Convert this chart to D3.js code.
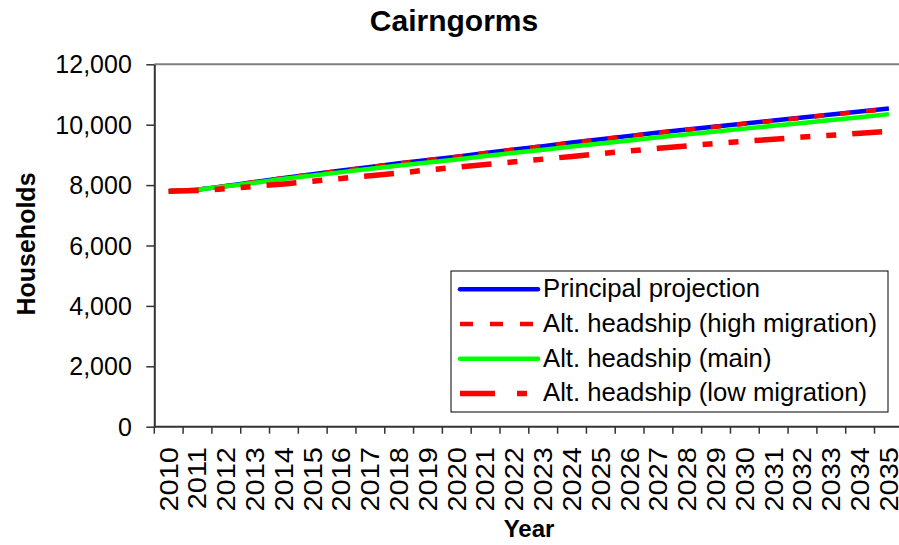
<!DOCTYPE html>
<html>
<head>
<meta charset="utf-8">
<script src="https://cdn.jsdelivr.net/npm/d3@7"></script>
<style>
  html, body { margin: 0; padding: 0; background: #fff; }
  svg { display: block; font-family: Arial, "Liberation Sans", sans-serif; }
</style>
</head>
<body>
<svg id="chart" width="899" height="545"></svg>
<script>
// ---- Data ----
const years = ["2010","2011","2012","2013","2014","2015","2016","2017","2018","2019","2020","2021","2022","2023","2024","2025","2026","2027","2028","2029","2030","2031","2032","2033","2034","2035"];
const principal = [7800,7850,7970,8100,8240,8360,8480,8600,8720,8830,8940,9060,9180,9290,9410,9520,9630,9740,9840,9940,10040,10140,10240,10340,10440,10540];
const highMigration = [7800,7850,7970,8100,8240,8360,8480,8600,8720,8830,8940,9060,9180,9290,9405,9515,9625,9730,9830,9930,10030,10130,10230,10330,10425,10525];
const altMain = [7800,7850,7960,8080,8210,8320,8430,8540,8650,8750,8850,8960,9070,9170,9280,9380,9480,9585,9680,9775,9870,9965,10060,10155,10250,10350];
const lowMigration = [7800,7820,7880,7960,8040,8130,8220,8310,8400,8500,8590,8680,8770,8860,8950,9040,9130,9220,9300,9380,9450,9520,9590,9650,9720,9780];
const yTicks = [0,2000,4000,6000,8000,10000,12000];
const seriesNames = ["Principal projection","Alt. headship (high migration)","Alt. headship (main)","Alt. headship (low migration)"];

const series = [
  {name: seriesNames[0], values: principal, color: "#0000FF", width: 4.5, dash: null, legendDash: null},
  {name: seriesNames[1], values: highMigration, color: "#FF0000", width: 4.5, dash: "10,16", legendDash: "13,17"},
  {name: seriesNames[2], values: altMain, color: "#00FF00", width: 4.5, dash: null, legendDash: null},
  {name: seriesNames[3], values: lowMigration, color: "#FF0000", width: 5.5, dash: "30,16,10,16,10,16", legendDash: "35,22,10,22"}
];

const svg = d3.select("#chart");
const plot = {left: 154.3, right: 903.3, top: 64.3, bottom: 426.7};

const x = d3.scaleBand().domain(years).range([plot.left, plot.right]).padding(0);
const y = d3.scaleLinear().domain([0, 12000]).range([plot.bottom, plot.top]);

// Title
svg.append("text").attr("x", 454).attr("y", 31).attr("text-anchor", "middle")
  .attr("font-size", 30).attr("font-weight", "bold").text("Cairngorms");

// Plot border (top and right)
svg.append("line").attr("x1", plot.left).attr("x2", plot.right).attr("y1", plot.top).attr("y2", plot.top)
  .attr("stroke", "#808080").attr("stroke-width", 2);
svg.append("line").attr("x1", plot.right).attr("x2", plot.right).attr("y1", plot.top).attr("y2", plot.bottom)
  .attr("stroke", "#808080").attr("stroke-width", 2);

// Y axis
const yAxis = d3.axisLeft(y).tickValues(yTicks).tickSize(8).tickSizeOuter(0)
  .tickFormat(d3.format(","));
const gy = svg.append("g").attr("transform", `translate(${plot.left},0)`).call(yAxis);
gy.select(".domain").attr("stroke", "#333").attr("stroke-width", 2);
gy.selectAll(".tick line").attr("stroke", "#333").attr("stroke-width", 1.5);
gy.selectAll(".tick text").attr("font-size", 25).attr("fill", "#000")
  .attr("x", -22.5).attr("dy", "0.34em").attr("font-family", "Arial, 'Liberation Sans', sans-serif");

// X axis (ticks between categories)
const gx = svg.append("g").attr("transform", `translate(0,${plot.bottom})`);
gx.append("line").attr("x1", plot.left).attr("x2", plot.right).attr("y1", 0).attr("y2", 0)
  .attr("stroke", "#333").attr("stroke-width", 2);
const boundaries = years.map(d => x(d)).concat([x(years[years.length-1]) + x.bandwidth()]);
gx.selectAll("line.tk").data(boundaries).enter().append("line").attr("class", "tk")
  .attr("x1", d => d).attr("x2", d => d).attr("y1", 0).attr("y2", 7)
  .attr("stroke", "#333").attr("stroke-width", 1.5);
const fsX = 25;
gx.selectAll("text").data(years).enter().append("text")
  .attr("transform", d => `translate(${x(d) + x.bandwidth()/2 + 0.355*fsX},${447 - plot.bottom}) rotate(-90) scale(1.16,1)`)
  .attr("text-anchor", "end").attr("font-size", fsX).attr("fill", "#000").text(d => d);

// Axis titles
svg.append("text").attr("x", 529).attr("y", 537).attr("text-anchor", "middle")
  .attr("font-size", 24).attr("font-weight", "bold").text("Year");
svg.append("text").attr("transform", "translate(35,244) rotate(-90)").attr("text-anchor", "middle")
  .attr("font-size", 25).attr("font-weight", "bold").text("Households");

// Lines
const line = d3.line().x((d, i) => x(years[i]) + x.bandwidth()/2).y(d => y(d));
series.forEach(s => {
  svg.append("path").datum(s.values).attr("d", line).attr("fill", "none")
    .attr("stroke", s.color).attr("stroke-width", s.width)
    .attr("stroke-dasharray", s.dash).attr("stroke-linejoin", "round");
});

// Legend
const lg = svg.append("g");
lg.append("rect").attr("x", 451).attr("y", 271).attr("width", 437).attr("height", 141)
  .attr("fill", "#fff").attr("stroke", "#000").attr("stroke-width", 1);
series.forEach((s, i) => {
  const cy = 289.3 + i * 34.7;
  lg.append("line").attr("x1", 460).attr("x2", 538).attr("y1", cy).attr("y2", cy)
    .attr("stroke", s.color).attr("stroke-width", s.width)
    .attr("stroke-dasharray", s.legendDash)
    .attr("stroke-linecap", s.legendDash ? "butt" : "round");
  lg.append("text").attr("x", 543).attr("y", cy + 8).attr("font-size", 25.7).text(s.name);
});
</script>
</body>
</html>
